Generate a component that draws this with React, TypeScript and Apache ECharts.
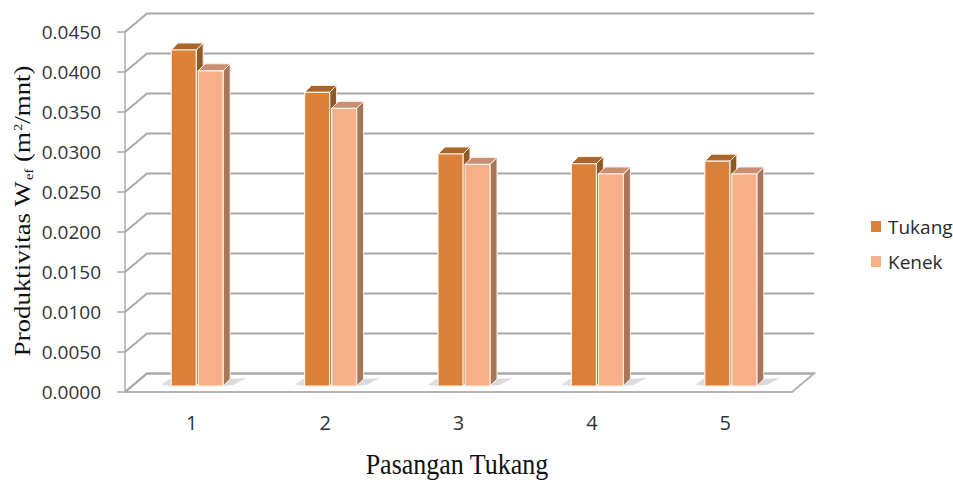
import React, { useEffect, useRef } from "react";
import * as echarts from "echarts";

// ---- data ----
const categories = ["1", "2", "3", "4", "5"];
const tukang = [0.042, 0.0367, 0.029, 0.0278, 0.0281];
const kenek = [0.0394, 0.0347, 0.0277, 0.0265, 0.0265];
const seriesNames = ["Tukang", "Kenek"];
const Y_MIN = 0;
const Y_MAX = 0.045;
const Y_STEP = 0.005;
const yTicks: number[] = [];
for (let k = 0; k <= Math.round((Y_MAX - Y_MIN) / Y_STEP); k++) yTicks.push(+(Y_MIN + k * Y_STEP).toFixed(4));

// ---- style constants ----
const DX = 22; // back wall depth offset
const DY = -18.5;
const BAR_W = 25;
const BAR_DX = 7;
const BAR_DY = -7;
const BAR_LIFT = 6; // bars sit a little behind front edge
const BAR_SHIFT = [-20.5, 6.5];
const FRONT = ["#D9813B", "#F8AF87"];
const TOP = ["#A8652C", "#C98E74"];
const SIDE = ["#8E5A2A", "#A57659"];
const EDGE = "#FFF1E2";
const GRID = "#A8A8A8";

export default function App() {
  const ref = useRef<HTMLDivElement>(null);
  useEffect(() => {
    const chart = echarts.init(ref.current!, null, { renderer: "svg" });

    const barSeries = (s: number, values: number[]) => ({
      type: "custom",
      name: seriesNames[s],
      clip: false,
      z: 5,
      itemStyle: { color: FRONT[s] },
      encode: { x: 0, y: 1 },
      data: values.map((v, i) => [i, v]),
      renderItem: (_params: any, api: any) => {
        const i = api.value(0);
        const v = api.value(1);
        const base = api.coord([i, 0]);
        const top = api.coord([i, v]);
        const x0 = base[0] + BAR_SHIFT[s];
        const yb = base[1] - BAR_LIFT;
        const yt = top[1] - BAR_LIFT;
        const children: any[] = [];
        if (s === 1) {
          children.push({
            type: "polygon",
            shape: {
              points: [
                [x0 + BAR_W + BAR_DX, yb + BAR_DY],
                [x0 + BAR_W + BAR_DX + 16, yb + BAR_DY - 1],
                [x0 + BAR_W + 10, yb - 1],
                [x0 + BAR_W, yb],
              ],
            },
            style: { fill: "rgba(150,150,150,0.35)" },
          });
        } else {
          children.push({
            type: "polygon",
            shape: {
              points: [
                [x0 - 10, yb - 1],
                [x0 - 2, yb + BAR_DY],
                [x0 + 4, yb + BAR_DY],
                [x0, yb],
              ],
            },
            style: { fill: "rgba(150,150,150,0.3)" },
          });
        }
        children.push(
          {
            type: "polygon",
            shape: {
              points: [
                [x0 + BAR_W, yt],
                [x0 + BAR_W + BAR_DX, yt + BAR_DY],
                [x0 + BAR_W + BAR_DX, yb + BAR_DY],
                [x0 + BAR_W, yb],
              ],
            },
            style: { fill: SIDE[s], stroke: EDGE, lineWidth: 1 },
          },
          {
            type: "polygon",
            shape: {
              points: [
                [x0, yt],
                [x0 + BAR_W, yt],
                [x0 + BAR_W + BAR_DX, yt + BAR_DY],
                [x0 + BAR_DX, yt + BAR_DY],
              ],
            },
            style: { fill: TOP[s], stroke: EDGE, lineWidth: 1 },
          },
          {
            type: "rect",
            shape: { x: x0, y: yt, width: BAR_W, height: yb - yt },
            style: { fill: FRONT[s], stroke: EDGE, lineWidth: 1.2 },
          }
        );
        return { type: "group", children };
      },
    });

    const option: any = {
      animation: false,
      backgroundColor: "#ffffff",
      grid: { left: 125, right: 161, top: 32, bottom: 88 },
      legend: {
        orient: "vertical",
        left: 866,
        top: 212,
        itemWidth: 10,
        itemHeight: 11,
        itemGap: 16,
        icon: "rect",
        data: seriesNames,
        textStyle: { fontFamily: "Open Sans", fontSize: 19, color: "#2a2a2a", padding: [0, 0, 0, 2] },
      },
      xAxis: {
        type: "category",
        data: categories,
        axisLine: { show: false },
        axisTick: { show: false },
        axisLabel: { fontFamily: "Open Sans", fontSize: 20, color: "#333333", margin: 20 },
        splitLine: { show: false },
      },
      yAxis: {
        type: "value",
        min: Y_MIN,
        max: Y_MAX,
        interval: Y_STEP,
        axisLine: { show: true, lineStyle: { color: GRID, width: 1.5 } },
        axisTick: { show: true, length: 8, lineStyle: { color: GRID, width: 1.5 } },
        axisLabel: {
          fontFamily: "Open Sans",
          fontSize: 19,
          color: "#333333",
          margin: 24,
          formatter: (v: number) => v.toFixed(4),
        },
        splitLine: { show: false },
      },
      graphic: [
        {
          type: "text",
          x: 22,
          y: 211,
          rotation: Math.PI / 2,
          scaleX: 1.12,
          style: {
            text: "{n|Produktivitas W}{s|ef}{n| (m}{p|2}{n|/mnt)}",
            align: "center",
            verticalAlign: "middle",
            fill: "#111111",
            rich: {
              n: { fontFamily: "Liberation Serif", fontSize: 24, lineHeight: 30, fill: "#111111" },
              s: { fontFamily: "Liberation Serif", fontSize: 13, lineHeight: 30, verticalAlign: "bottom", padding: [0, 0, 2, 1], fill: "#111111" },
              p: { fontFamily: "Liberation Serif", fontSize: 13, lineHeight: 30, verticalAlign: "top", padding: [4, 0, 0, 1], fill: "#111111" },
            },
          },
        },
        {
          type: "text",
          x: 457,
          y: 464,
          scaleY: 1.12,
          style: {
            text: "Pasangan Tukang",
            align: "center",
            verticalAlign: "middle",
            fontFamily: "Liberation Serif",
            fontSize: 26,
            fill: "#111111",
          },
        },
      ],
      series: [
        {
          type: "custom",
          name: "floor",
          clip: false,
          silent: true,
          z: 1,
          encode: { x: 0, y: 1 },
          data: [[0, Y_MIN]],
          renderItem: (params: any, api: any) => {
            const cs = params.coordSys;
            const y = api.coord([0, Y_MIN])[1];
            const xl = cs.x;
            const xr = cs.x + cs.width;
            return {
              type: "polygon",
              shape: { points: [[xl, y], [xr, y], [xr + DX, y + DY], [xl + DX, y + DY]] },
              style: { fill: "#ffffff", stroke: "#B4B4B4", lineWidth: 2 },
            };
          },
        },
        {
          type: "custom",
          name: "wall",
          clip: false,
          silent: true,
          z: 2,
          encode: { x: 0, y: 1 },
          data: yTicks.map((v) => [0, v]),
          renderItem: (params: any, api: any) => {
            const cs = params.coordSys;
            const y = api.coord([0, api.value(1)])[1];
            const xl = cs.x;
            const xr = cs.x + cs.width;
            return {
              type: "polyline",
              shape: { points: [[xl, y], [xl + DX, y + DY], [xr + DX, y + DY]] },
              style: { fill: "none", stroke: GRID, lineWidth: 2 },
            };
          },
        },
        barSeries(0, tukang),
        barSeries(1, kenek),
      ],
    };
    chart.setOption(option);
    return () => chart.dispose();
  }, []);
  return (
    <div
      ref={ref}
      style={{ position: "absolute", left: 0, top: 0, width: 953, height: 480, background: "#fff" }}
    />
  );
}
